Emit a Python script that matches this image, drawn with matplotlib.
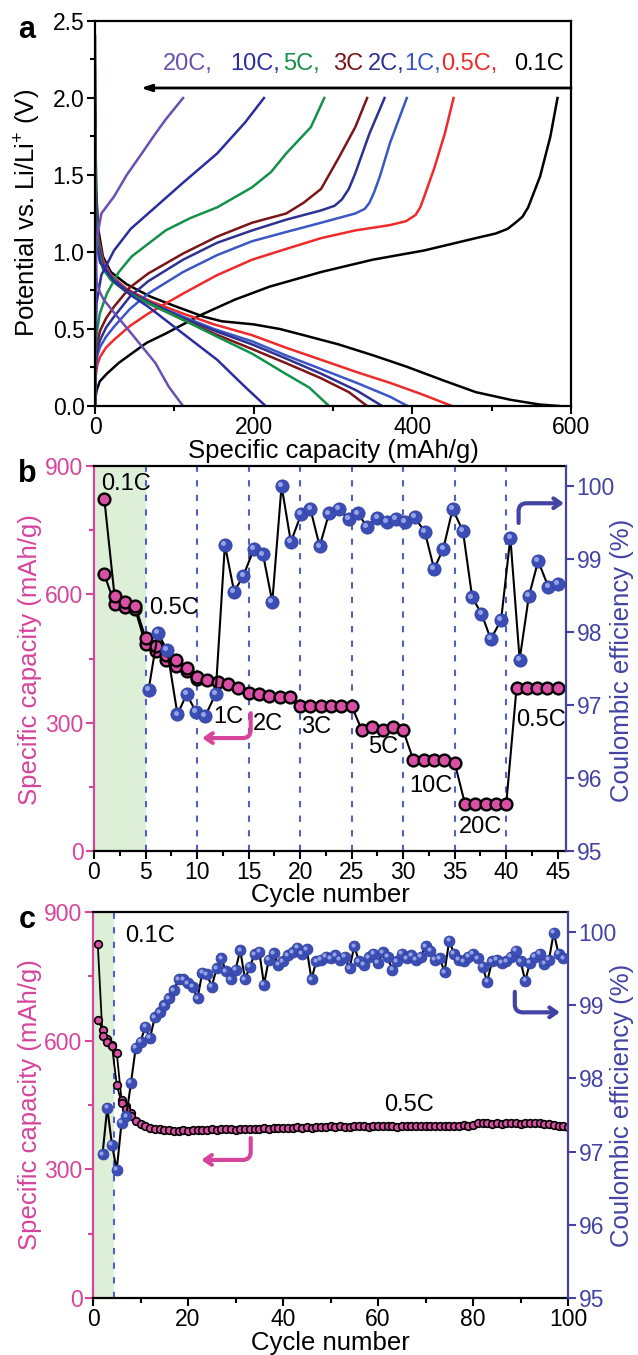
import numpy as np
import matplotlib
matplotlib.use('Agg')
import matplotlib.pyplot as plt
from matplotlib.transforms import offset_copy
from matplotlib.ticker import MultipleLocator, FormatStrFormatter

plt.rcParams['font.family'] = ['Liberation Sans', 'DejaVu Sans']
plt.rcParams['mathtext.fontset'] = 'custom'
plt.rcParams['mathtext.rm'] = 'Liberation Sans'
plt.rcParams['mathtext.it'] = 'Liberation Sans:italic'
plt.rcParams['mathtext.bf'] = 'Liberation Sans:bold'

# ---------------- Panel a data (capacity mAh/g, voltage V) ----------------
rates = ['0.1C', '0.5C', '1C', '2C', '3C', '5C', '10C', '20C']
rate_colors = ['#000000', '#ee2a2a', '#3b57c6', '#2e3192', '#7a1518', '#13904a', '#2c2d9e', '#6a50b0']

dis_q = {
    '0.1C': [0, 0.5, 1.5, 4, 10, 20, 40, 70, 100, 137, 160, 200, 233, 263, 307, 350, 393, 437, 480, 524, 560, 585],
    '0.5C': [0, 0.5, 1.5, 4, 10, 20, 40, 70, 111, 150, 198, 240, 285, 330, 372, 410, 450],
    '1C': [0, 0.5, 1.5, 4, 10, 20, 40, 70, 111, 150, 198, 240, 285, 330, 372, 394],
    '2C': [0, 0.5, 1.5, 4, 10, 20, 40, 70, 111, 150, 198, 240, 285, 330, 362],
    '3C': [0, 0.5, 1.5, 4, 10, 20, 40, 70, 111, 150, 198, 240, 285, 320, 343],
    '5C': [0, 0.5, 1.5, 4, 10, 20, 40, 70, 111, 150, 198, 240, 270, 295],
    '10C': [0, 0.7, 2, 6.5, 24, 45, 67, 111, 154, 189, 215],
    '20C': [0, 0.4, 1, 2, 6, 11, 25, 46, 76, 93, 111],
}
dis_v = {
    '0.1C': [2.4, 1.8, 1.4, 1.15, 0.97, 0.87, 0.79, 0.71, 0.65, 0.58, 0.55, 0.53, 0.50, 0.46, 0.40, 0.33, 0.255, 0.17, 0.09, 0.04, 0.01, 0.0],
    '0.5C': [2.2, 1.7, 1.35, 1.1, 0.95, 0.85, 0.76, 0.68, 0.60, 0.53, 0.46, 0.38, 0.30, 0.22, 0.15, 0.08, 0.0],
    '1C': [2.1, 1.65, 1.3, 1.08, 0.93, 0.84, 0.75, 0.67, 0.58, 0.50, 0.42, 0.33, 0.24, 0.15, 0.06, 0.0],
    '2C': [2.0, 1.6, 1.28, 1.05, 0.91, 0.83, 0.75, 0.67, 0.57, 0.49, 0.40, 0.31, 0.21, 0.10, 0.0],
    '3C': [1.9, 1.55, 1.25, 1.04, 0.90, 0.82, 0.74, 0.66, 0.56, 0.47, 0.37, 0.28, 0.18, 0.09, 0.0],
    '5C': [1.8, 1.5, 1.22, 1.02, 0.89, 0.82, 0.74, 0.66, 0.56, 0.46, 0.34, 0.21, 0.12, 0.0],
    '10C': [1.4, 1.2, 1.05, 0.93, 0.81, 0.72, 0.645, 0.47, 0.30, 0.125, 0.0],
    '20C': [1.2, 1.05, 0.95, 0.81, 0.74, 0.69, 0.60, 0.47, 0.28, 0.125, 0.0],
}
chg_q = {
    '0.1C': [0, 0.5, 2, 6, 15, 30, 46, 65, 89, 133, 176, 220, 285, 350, 415, 480, 505, 520, 530, 539, 546, 561, 574, 583],
    '0.5C': [0, 0.3, 1, 3, 6.5, 14, 24, 44, 67, 111, 154, 198, 241, 285, 328, 372, 392, 404, 410, 415, 428, 441, 452],
    '1C': [0, 0.3, 1, 3, 6.5, 14, 24, 44, 67, 111, 154, 198, 241, 285, 328, 340, 346, 352, 359, 372, 393],
    '2C': [0, 0.3, 1, 3, 6.5, 14, 24, 44, 67, 111, 154, 198, 241, 285, 302, 311, 320, 328, 346, 365],
    '3C': [0, 0.3, 1, 3, 6.5, 14, 24, 44, 67, 111, 154, 198, 241, 263, 285, 307, 328, 343],
    '5C': [0, 0.2, 0.5, 2, 6, 15, 30, 46, 89, 120, 154, 198, 222, 241, 272, 289],
    '10C': [0, 0.2, 0.5, 2, 8, 24, 45, 67, 111, 154, 189, 213],
    '20C': [0, 0.2, 0.5, 2, 8, 24, 40, 59, 75, 89, 111],
}
chg_v = {
    '0.1C': [0.0, 0.05, 0.10, 0.16, 0.21, 0.28, 0.34, 0.41, 0.47, 0.59, 0.69, 0.775, 0.87, 0.95, 1.01, 1.09, 1.12, 1.15, 1.19, 1.23, 1.29, 1.49, 1.75, 2.0],
    '0.5C': [0.0, 0.1, 0.2, 0.27, 0.32, 0.38, 0.43, 0.52, 0.60, 0.73, 0.85, 0.95, 1.02, 1.09, 1.14, 1.175, 1.20, 1.24, 1.29, 1.36, 1.55, 1.77, 2.0],
    '1C': [0.0, 0.12, 0.25, 0.33, 0.385, 0.45, 0.515, 0.63, 0.73, 0.87, 0.98, 1.07, 1.13, 1.19, 1.25, 1.28, 1.32, 1.39, 1.49, 1.71, 2.0],
    '2C': [0.0, 0.14, 0.28, 0.37, 0.43, 0.51, 0.58, 0.71, 0.81, 0.95, 1.06, 1.14, 1.21, 1.27, 1.30, 1.34, 1.41, 1.51, 1.77, 2.0],
    '3C': [0.0, 0.16, 0.32, 0.42, 0.49, 0.57, 0.645, 0.77, 0.86, 0.99, 1.10, 1.19, 1.25, 1.32, 1.41, 1.61, 1.81, 2.0],
    '5C': [0.0, 0.15, 0.3, 0.47, 0.6, 0.73, 0.87, 0.97, 1.14, 1.22, 1.29, 1.42, 1.52, 1.64, 1.81, 2.0],
    '10C': [0.0, 0.2, 0.4, 0.67, 0.85, 1.01, 1.15, 1.25, 1.45, 1.64, 1.84, 2.0],
    '20C': [0.0, 0.3, 0.6, 1.08, 1.25, 1.36, 1.50, 1.64, 1.76, 1.86, 2.0],
}
label_x = [528, 436, 390, 344, 300, 237, 170, 86]
label_text = ['0.1C', '0.5C,', '1C,', '2C,', '3C', '5C,', '10C,', '20C,']

# ---------------- Panel b data ----------------
cyc_b = list(range(1, 46))
cap_b_dis = [823, 595, 581, 573, 498, 479, 459, 446, 428, 406,
             400, 396, 390, 382, 369, 366, 363, 361, 359, 340,
             340, 340, 340, 340, 339, 282, 289, 282, 289, 282,
             212, 212, 212, 212, 206, 110, 110, 110, 110, 110,
             381, 381, 381, 381, 381]
cyc_b_chg = list(range(1, 11))
cap_b_chg = [647, 577, 571, 565, 483, 467, 447, 432, 420, 402]
cyc_b_ce = [5.3, 6.2, 7.1, 8.1, 9.0, 9.9, 10.8, 11.8, 12.7, 13.6, 14.5, 15.5, 16.4, 17.3,
            18.2, 19.1, 20.1, 21.0, 21.9, 22.8, 23.8, 24.7, 25.6, 26.5, 27.5, 28.4, 29.3,
            30.2, 31.1, 32.1, 33.0, 33.9, 34.8, 35.8, 36.7, 37.6, 38.5, 39.5, 40.4, 41.3,
            42.2, 43.1, 44.1, 45.0]
ce_b = [97.21, 97.98, 97.75, 96.87, 97.15, 96.90, 96.85, 97.15, 99.19, 98.55, 98.77,
        99.13, 99.06, 98.41, 100.0, 99.23, 99.61, 99.68, 99.17, 99.62, 99.68, 99.54,
        99.62, 99.44, 99.56, 99.51, 99.55, 99.50, 99.57, 99.37, 98.86, 99.14, 99.68,
        99.38, 98.47, 98.25, 97.90, 98.16, 99.29, 97.62, 98.49, 98.97, 98.61, 98.66]
rate_b_text = ['0.1C', '0.5C', '1C', '2C', '3C', '5C', '10C', '20C', '0.5C']
rate_b_x = [3.1, 7.8, 13.0, 16.9, 21.6, 28.1, 32.7, 37.5, 43.4]
rate_b_y = [859, 569, 314, 298, 290, 243, 153, 55, 306]
rate_b_bounds = [5, 10, 15, 20, 25, 30, 35, 40]

# ---------------- Panel c data ----------------
cyc_c = list(range(1, 101))
cap_c_dis = [826, 612, 598, 587, 497, 455, 440, 425, 412, 405,
             400, 397, 395, 393, 392, 391, 390, 390, 391, 390,
             391, 392, 391, 392, 393, 392, 393, 394, 393, 392,
             394, 395, 394, 395, 394, 396, 395, 396, 397, 396,
             397, 396, 398, 397, 398, 397, 399, 398, 399, 400,
             399, 400, 399, 398, 400, 401, 400, 399, 400, 401,
             400, 401, 400, 399, 400, 401, 400, 401, 402, 401,
             400, 401, 402, 401, 400, 401, 402, 403, 402, 404,
             407, 408, 407, 406, 407, 406, 407, 408, 407, 406,
             407, 408, 409, 408, 406, 405, 404, 402, 400, 399]
cyc_c_chg = list(range(1, 9))
cap_c_chg = [649, 626, 605, 590, 572, 462, 448, 432]
cyc_c_ce = list(range(2, 100))
ce_c = [96.96, 97.60, 97.09, 96.75, 97.39, 97.48, 97.94, 98.42, 98.50, 98.70,
        98.55, 98.83, 98.90, 99.00, 99.09, 99.20, 99.35, 99.35, 99.30, 99.25,
        99.09, 99.44, 99.42, 99.25, 99.50, 99.64, 99.46, 99.35, 99.48, 99.75,
        99.35, 99.52, 99.69, 99.73, 99.28, 99.62, 99.71, 99.55, 99.60, 99.68,
        99.72, 99.78, 99.70, 99.76, 99.35, 99.60, 99.62, 99.66, 99.64, 99.68,
        99.62, 99.66, 99.50, 99.80, 99.60, 99.55, 99.65, 99.70, 99.58, 99.72,
        99.66, 99.48, 99.60, 99.70, 99.64, 99.68, 99.62, 99.66, 99.80, 99.74,
        99.62, 99.64, 99.45, 99.88, 99.70, 99.62, 99.60, 99.66, 99.70, 99.64,
        99.52, 99.32, 99.60, 99.62, 99.58, 99.60, 99.66, 99.74, 99.60, 99.33,
        99.58, 99.66, 99.70, 99.56, 99.62, 99.99, 99.70, 99.64]

PINK = '#d6449c'
PINK_FILL = '#d84fa3'
BLUE_AX = '#4343a5'
BALL = '#3a4eb6'
BALL_HI = '#a3b2ee'
DASH = '#5060c4'
GREEN = '#ddefd6'
TICK_FS = 16.5
LAB_FS = 18.5
ANN_FS = 17

fig = plt.figure(figsize=(6.38, 13.55), dpi=100)
W, H = 638.0, 1355.0


def axes_px(l, t, r, b):
    return fig.add_axes([l / W, 1 - b / H, (r - l) / W, (b - t) / H])


def fig_text_px(x, y, s, **kw):
    return fig.text(x / W, 1 - y / H, s, **kw)


def style_ticks(ax, which_axes='both', color='black'):
    ax.tick_params(axis=which_axes, which='major', direction='out', length=6, width=1.5,
                   labelsize=TICK_FS, colors=color, pad=1.5)
    ax.tick_params(axis=which_axes, which='minor', direction='out', length=3.5, width=1.5,
                   colors=color)


def balls(ax, x, y, size):
    ax.plot(x, y, '-', color='black', lw=1.5, zorder=4)
    ax.plot(x, y, 'o', ms=size, mfc=BALL, mec='#33439f', mew=0.6, ls='none', zorder=5)
    tr = offset_copy(ax.transData, fig=fig, x=-size * 0.14, y=size * 0.14, units='points')
    ax.plot(x, y, 'o', ms=size * 0.38, mfc=BALL_HI, mec='none', alpha=0.85, ls='none',
            transform=tr, zorder=6)


# ======================= Panel a =======================
axA = axes_px(95, 21, 571, 406)
for r, c in zip(rates, rate_colors):
    axA.plot(dis_q[r], dis_v[r], color=c, lw=1.8)
    axA.plot(chg_q[r], chg_v[r], color=c, lw=1.8)
axA.set_xlim(0, 600)
axA.set_ylim(0, 2.5)
axA.xaxis.set_major_locator(MultipleLocator(200))
axA.xaxis.set_minor_locator(MultipleLocator(100))
axA.yaxis.set_major_locator(MultipleLocator(0.5))
axA.yaxis.set_minor_locator(MultipleLocator(0.25))
axA.yaxis.set_major_formatter(FormatStrFormatter('%.1f'))
for s in axA.spines.values():
    s.set_linewidth(1.6)
style_ticks(axA)
fig_text_px(333, 458, 'Specific capacity (mAh/g)', fontsize=LAB_FS, ha='center', va='baseline')
fig_text_px(28, 213, 'Potential vs. Li/Li$^{+}$ (V)', fontsize=LAB_FS, ha='center', va='center',
            rotation=90)
for xt, t, c in zip(label_x, label_text, rate_colors):
    axA.text(xt, 2.22, t, color=c, fontsize=ANN_FS, ha='left', va='center')
axA.annotate('', xy=(58, 2.065), xytext=(600, 2.065),
             arrowprops=dict(arrowstyle='-|>,head_length=0.6,head_width=0.2', lw=2,
                             color='black', shrinkA=0, shrinkB=0))
fig_text_px(27, 30, 'a', fontsize=22, fontweight='bold', ha='center', va='center')


# ======================= Panel b / c helpers =======================
def setup_cycle_axes(ax, ax2, xmax, xmajor, xminor):
    ax.set_xlim(0, xmax)
    ax.set_ylim(0, 900)
    ax2.set_ylim(95, 100.27)
    ax.xaxis.set_major_locator(MultipleLocator(xmajor))
    ax.xaxis.set_minor_locator(MultipleLocator(xminor))
    ax.yaxis.set_major_locator(MultipleLocator(300))
    ax.yaxis.set_minor_locator(MultipleLocator(150))
    ax2.yaxis.set_major_locator(MultipleLocator(1))
    for s in ax.spines.values():
        s.set_linewidth(1.6)
    for s in ax2.spines.values():
        s.set_linewidth(1.6)
    ax.spines['left'].set_color(PINK)
    ax.spines['right'].set_visible(False)
    ax2.spines['left'].set_visible(False)
    ax2.spines['right'].set_color(BLUE_AX)
    ax2.spines['top'].set_visible(False)
    ax2.spines['bottom'].set_visible(False)
    style_ticks(ax, 'x')
    style_ticks(ax, 'y', PINK)
    style_ticks(ax2, 'y', BLUE_AX)


def cycle_labels(ycenter, xlabel_base):
    fig_text_px(330, xlabel_base, 'Cycle number', fontsize=LAB_FS, ha='center', va='baseline')
    fig_text_px(30, ycenter, 'Specific capacity (mAh/g)', fontsize=LAB_FS, color=PINK,
                ha='center', va='center', rotation=90)
    fig_text_px(622, ycenter, 'Coulombic efficiency (%)', fontsize=LAB_FS, color=BLUE_AX,
                ha='center', va='center', rotation=90)


ARROW = '->,head_length=0.5,head_width=0.35'

# ======================= Panel b =======================
axB = axes_px(94, 466, 566, 851)
axB2 = axB.twinx()
axB.axvspan(0, 5, color=GREEN, lw=0, zorder=0)
for xb in rate_b_bounds:
    axB.axvline(xb, color=DASH, lw=1.5, ls=(0, (3, 4)), zorder=1)
axB.plot(cyc_b, cap_b_dis, '-', color='black', lw=1.5, zorder=3)
axB.plot(cyc_b_chg, cap_b_chg, '-', color='black', lw=1.5, zorder=3)
axB.plot(cyc_b_chg, cap_b_chg, 'o', ms=8.5, mfc=PINK_FILL, mec='black', mew=1.7, zorder=4)
axB.plot(cyc_b, cap_b_dis, 'o', ms=8.5, mfc=PINK_FILL, mec='black', mew=1.7, zorder=4)
balls(axB2, cyc_b_ce, ce_b, 9.5)
for t, xt, yt in zip(rate_b_text, rate_b_x, rate_b_y):
    axB.text(xt, yt, t, fontsize=ANN_FS, ha='center', va='center', zorder=6)
setup_cycle_axes(axB, axB2, 45.8, 5, 2.5)
cycle_labels(660, 902)
axB.annotate('', xy=(10.5, 264), xytext=(15.2, 322),
             arrowprops=dict(arrowstyle=ARROW, lw=3, color=PINK,
                             connectionstyle='angle,angleA=-90,angleB=0,rad=8',
                             shrinkA=0, shrinkB=0), zorder=6)
axB2.annotate('', xy=(45.6, 99.76), xytext=(41.2, 99.49),
              arrowprops=dict(arrowstyle=ARROW, lw=3, color=BLUE_AX,
                              connectionstyle='angle,angleA=90,angleB=0,rad=8',
                              shrinkA=0, shrinkB=0), zorder=7)
fig_text_px(27, 474, 'b', fontsize=22, fontweight='bold', ha='center', va='center')

# ======================= Panel c =======================
axC = axes_px(93, 912, 568, 1298)
axC2 = axC.twinx()
axC.axvspan(0, 4.5, color=GREEN, lw=0, zorder=0)
axC.axvline(4.5, color=DASH, lw=1.5, ls=(0, (3, 4)), zorder=1)
axC.plot(cyc_c, cap_c_dis, '-', color='black', lw=1.3, zorder=3)
axC.plot(cyc_c_chg, cap_c_chg, '-', color='black', lw=1.3, zorder=3)
axC.plot(cyc_c_chg, cap_c_chg, 'o', ms=5.5, mfc=PINK_FILL, mec='black', mew=1.2, zorder=4)
axC.plot(cyc_c, cap_c_dis, 'o', ms=5.5, mfc=PINK_FILL, mec='black', mew=1.2, zorder=4)
balls(axC2, cyc_c_ce, ce_c, 7.8)
axC.text(11.9, 843, '0.1C', fontsize=ANN_FS, ha='center', va='center')
axC.text(66.6, 451, '0.5C', fontsize=ANN_FS, ha='center', va='center')
setup_cycle_axes(axC, axC2, 100, 20, 10)
cycle_labels(1105, 1350)
axC.annotate('', xy=(22.8, 322), xytext=(33.2, 373),
             arrowprops=dict(arrowstyle=ARROW, lw=3, color=PINK,
                             connectionstyle='angle,angleA=-90,angleB=0,rad=8',
                             shrinkA=0, shrinkB=0), zorder=6)
axC2.annotate('', xy=(98.3, 98.9), xytext=(88.8, 99.18),
              arrowprops=dict(arrowstyle=ARROW, lw=3, color=BLUE_AX,
                              connectionstyle='angle,angleA=-90,angleB=0,rad=8',
                              shrinkA=0, shrinkB=0), zorder=7)
fig_text_px(27, 920, 'c', fontsize=22, fontweight='bold', ha='center', va='center')

fig.savefig('out.png', dpi=100)
